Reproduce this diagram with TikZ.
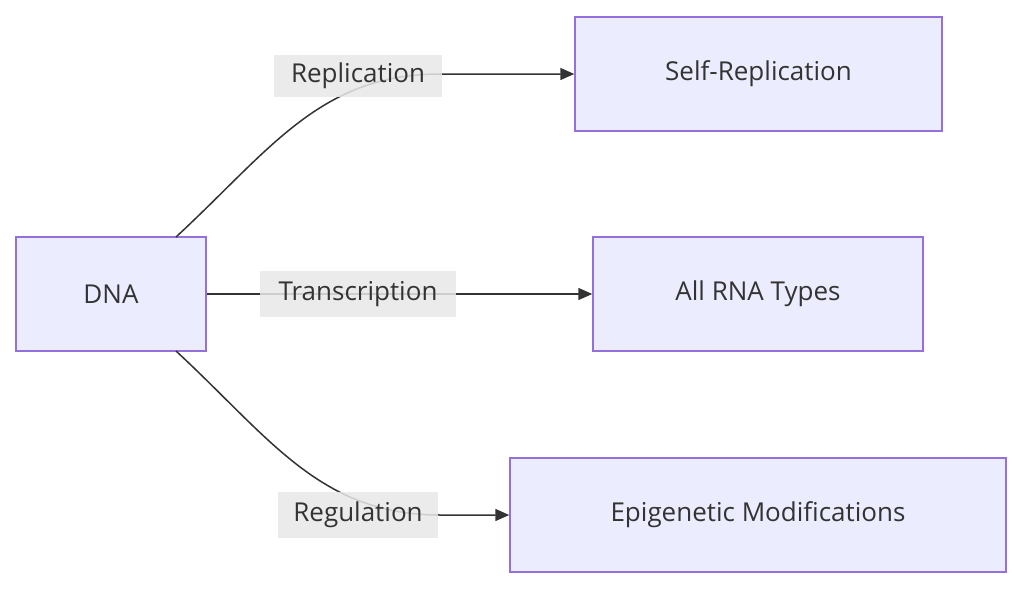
\documentclass[tikz,border=0pt]{standalone}
\usepackage{fontspec}
\setmainfont{Open Sans}
\usetikzlibrary{arrows.meta}
\definecolor{nfill}{HTML}{ECECFF}
\definecolor{nborder}{HTML}{9370DB}
\definecolor{lfill}{HTML}{E8E8E8}
\definecolor{ln}{HTML}{333333}
\begin{document}
\begin{tikzpicture}[x=1pt,y=-1pt,
  box/.style={draw=nborder,fill=nfill,line width=1.5pt,inner sep=0pt,font=\fontsize{26}{30}\selectfont,text=ln},
  lab/.style={fill=lfill,fill opacity=0.85,text opacity=1,inner sep=0pt,font=\fontsize{26}{30}\selectfont,text=ln},
  edge/.style={draw=ln,line width=1.5pt,-{Triangle[length=14pt,width=12pt]}}]
\useasboundingbox (0,0) rectangle (1024,589);
\node[box,minimum width=190pt,minimum height=114pt] (dna) at (111,294) {DNA};
\node[box,minimum width=367pt,minimum height=114pt] (self) at (758.5,74) {Self-Replication};
\node[box,minimum width=330pt,minimum height=114pt] (rna) at (758,294) {All RNA Types};
\node[box,minimum width=496pt,minimum height=114pt] (epi) at (758,515) {Epigenetic Modifications};
\coordinate (a1) at (176,237);
\coordinate (a3) at (176,351);
\draw[edge] (a1) .. controls (270,150) and (320,74) .. (440,74) -- (self.west);
\draw[edge] (dna.east) -- (rna.west);
\draw[edge] (a3) .. controls (270,438) and (320,515) .. (440,515) -- (epi.west);
\node[lab,minimum width=168pt,minimum height=42pt] (l1) at (358,76) {Replication};
\node[lab,minimum width=196pt,minimum height=46pt] (l2) at (358,294) {Transcription};
\node[lab,minimum width=160pt,minimum height=46pt] (l3) at (358,515) {Regulation};
\end{tikzpicture}
\end{document}
